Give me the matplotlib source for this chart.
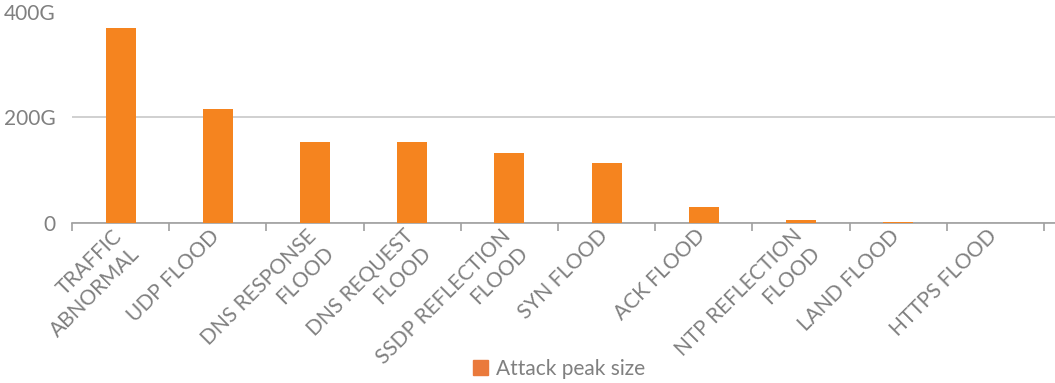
import matplotlib
matplotlib.use("Agg")
import matplotlib.pyplot as plt
import matplotlib.transforms as mtransforms
from matplotlib.patches import Patch
import numpy as np

categories = ["TRAFFIC\nABNORMAL", "UDP FLOOD", "DNS RESPONSE\nFLOOD", "DNS REQUEST\nFLOOD",
              "SSDP REFLECTION\nFLOOD", "SYN FLOOD", "ACK FLOOD", "NTP REFLECTION\nFLOOD",
              "LAND FLOOD", "HTTPS FLOOD"]
peak_size = [368, 215, 153, 153, 132, 113, 30, 6, 1, 0.5]
y_ticks = [0, 200, 400]
y_labels = ["0", "200G", "400G"]

plt.rcParams["font.family"] = ["Lato", "DejaVu Sans"]
grey = "#808080"

fig = plt.figure(figsize=(10.55, 3.83), dpi=100)
ax = fig.add_axes([72 / 1055, 1 - 223 / 383, (1055 - 72) / 1055, (223 - 11.5) / 383])

x = np.arange(len(categories))
ax.bar(x, peak_size, width=0.31, color="#F5841F", zorder=3)

ax.set_ylim(0, 400)
ax.set_xlim(-0.5, 9.5 + 11 / 97.2)
ax.set_yticks(y_ticks)
ax.set_yticklabels(y_labels)
ax.yaxis.grid(True, color="#c8c8c8", linewidth=1.2, zorder=0)
ax.tick_params(axis="y", length=0, pad=12, labelsize=15, labelcolor=grey)

# category boundaries carry the tick marks, labels sit under the bars
ax.set_xticks(np.arange(-0.5, 10, 1.0), minor=True)
ax.set_xticks(x)
ax.set_xticklabels(categories, rotation=45, ha="right", va="top",
                   rotation_mode="anchor", multialignment="right",
                   linespacing=1.3, fontsize=15, color=grey)
ax.tick_params(axis="x", which="major", length=0, pad=2)
ax.tick_params(axis="x", which="minor", length=6, color="#a0a0a0", width=1.2)

# nudge the slanted labels a little to the left
shift = mtransforms.ScaledTranslation(-9 / 100, 0, fig.dpi_scale_trans)
for lbl in ax.get_xticklabels():
    lbl.set_transform(lbl.get_transform() + shift)

for side in ["top", "right", "left"]:
    ax.spines[side].set_visible(False)
ax.spines["bottom"].set_color("#a0a0a0")
ax.spines["bottom"].set_linewidth(1.2)

legend_patch = Patch(color="#EA7A3C", label="Attack peak size")
fig.legend(handles=[legend_patch], loc="center", bbox_to_anchor=(559 / 1055, 1 - 369 / 383),
           frameon=False, fontsize=15, handlelength=0.7, handleheight=0.7,
           handletextpad=0.4, labelcolor=grey)

fig.savefig("out.png", dpi=100)
